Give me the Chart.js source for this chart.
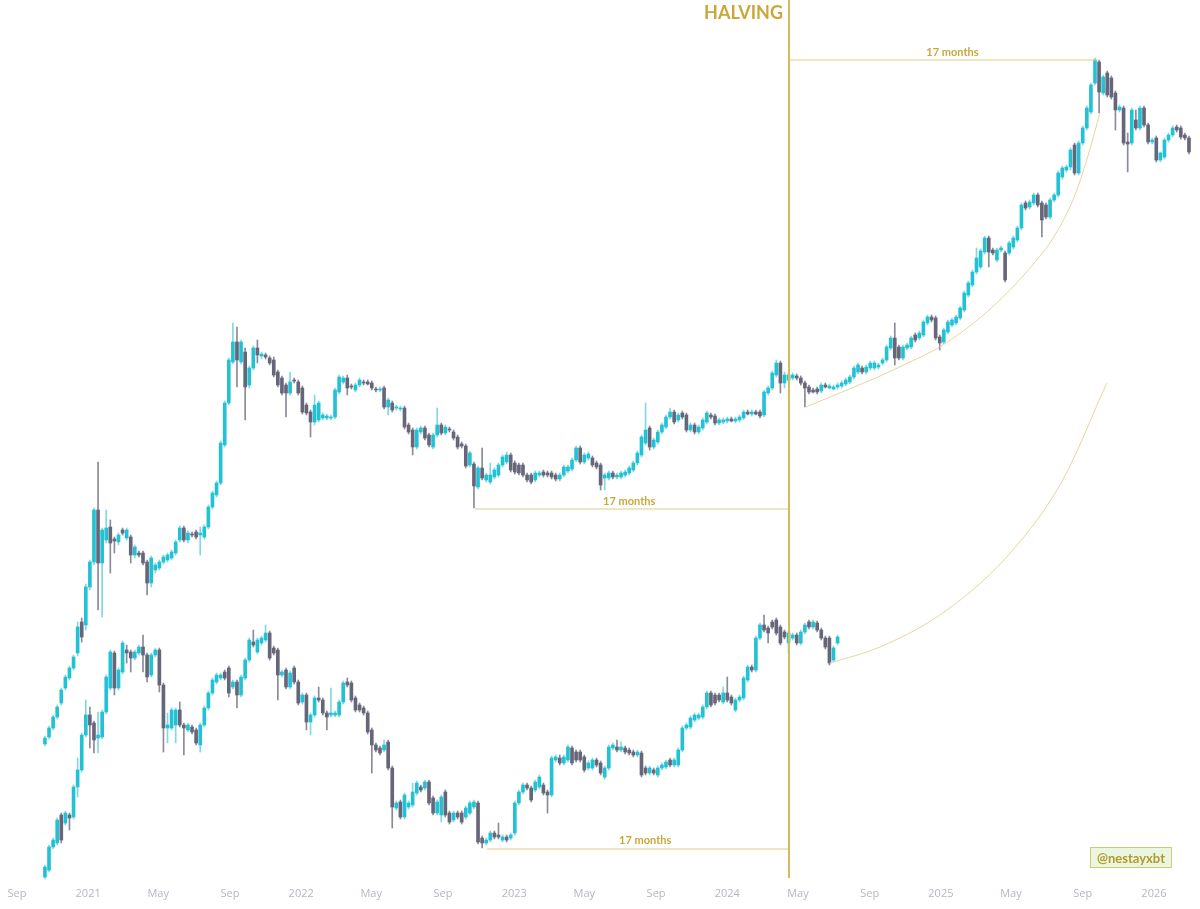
<!DOCTYPE html>
<html>
<head>
<meta charset="utf-8">
<script src="https://cdn.jsdelivr.net/npm/chart.js@4.4.1/dist/chart.umd.min.js"></script>
<style>
  html, body { margin: 0; padding: 0; background: #ffffff; }
  #wrap { width: 1200px; height: 909px; }
</style>
</head>
<body>
<div id="wrap"><canvas id="chart" width="1200" height="909"></canvas></div>
<script>
// weekly candles, first bar on this date
const startDate = '2020-10-19';

// current cycle, [open, high, low, close] per week (arbitrary price units)
const upperCandles = [
  [156,164,154,162],[163,174,161,172],[172,185,170,183],[183,195,181,193],[197,212,195,210],
  [212,225,210,223],[222,234,220,232],[232,245,230,243],[247,278,244,273],[278,282,258,263],
  [275,316,270,313],[313,340,310,338],[338,392,335,390],[390,438,290,337],[337,372,283,370],
  [360,390,357,372],[373,380,327,357],[361,363,347,359],[358,367,355,365],[370,372,365,367],
  [362,372,360,370],[363,365,337,345],[345,355,342,353],[347,349,343,345],[347,349,335,337],
  [338,340,305,317],[317,344,313,342],[330,337,327,335],[332,340,330,338],[338,345,336,343],
  [340,347,338,345],[342,350,340,348],[347,360,345,358],[360,374,358,372],[372,374,358,360],
  [360,369,357,367],[366,368,363,365],[368,370,361,363],[365,373,345,367],[363,375,361,373],
  [373,395,371,393],[393,409,391,407],[405,419,403,417],[417,459,415,457],[455,499,453,497],
  [497,542,495,540],[538,577,536,558],[558,573,513,540],[538,560,536,558],[548,552,480,513],
  [515,534,512,532],[532,554,530,552],[552,560,537,545],[544,548,541,546],[545,547,541,543],
  [542,544,535,537],[540,543,523,525],[528,530,513,515],[522,524,505,507],[515,517,483,507],
  [507,528,505,518],[520,522,517,519],[518,520,505,507],[512,514,486,488],[495,497,485,487],
  [488,490,463,478],[478,505,475,495],[480,499,478,497],[482,487,480,485],[482,486,480,484],
  [482,485,480,483],[483,512,481,510],[508,525,506,523],[518,524,516,522],[522,525,505,512],
  [514,516,511,513],[510,517,508,515],[515,522,513,520],[518,520,515,517],[518,520,515,516],
  [517,519,510,512],[511,513,508,510],[510,513,508,511],[512,514,491,493],[493,502,485,500],
  [497,499,488,490],[492,495,490,493],[491,494,489,492],[492,494,471,473],[475,477,466,468],
  [470,472,445,453],[453,472,451,470],[468,474,466,472],[472,474,460,462],[465,467,453,455],
  [453,467,451,465],[465,492,463,475],[475,477,465,467],[467,475,465,473],[471,473,468,470],
  [468,470,460,462],[463,465,451,453],[456,458,452,454],[454,456,432,434],[435,449,433,447],
  [436,438,392,414],[413,434,411,432],[432,452,420,422],[420,427,418,425],[418,437,416,425],
  [423,432,421,430],[425,437,423,435],[435,445,433,443],[438,448,436,445],[445,447,428,430],
  [437,439,426,428],[435,437,425,427],[435,437,423,425],[425,427,418,420],[425,427,416,418],
  [420,429,418,427],[425,429,423,427],[428,430,423,425],[427,429,423,425],[427,429,421,423],
  [425,427,419,421],[421,427,419,425],[425,435,423,433],[429,435,427,433],[431,442,429,440],
  [440,454,438,452],[452,454,436,438],[438,447,436,445],[442,448,440,446],[442,444,433,435],
  [437,439,431,433],[435,437,410,415],[422,427,410,425],[422,429,420,427],[427,429,421,423],
  [423,427,421,425],[423,429,421,427],[425,430,423,428],[427,434,425,432],[430,439,428,437],
  [437,449,435,447],[445,465,443,463],[457,497,455,470],[472,474,450,453],[453,462,451,460],
  [458,470,456,468],[468,477,466,475],[473,485,471,483],[483,492,481,488],[488,490,476,478],
  [480,487,478,485],[487,489,481,483],[485,487,468,470],[470,477,468,475],[475,477,466,468],
  [468,475,466,473],[472,482,470,480],[478,489,476,487],[485,487,481,483],[484,486,475,477],
  [477,482,475,480],[478,482,476,480],[479,483,477,481],[481,483,478,479],[479,483,477,481],
  [480,485,478,483],[482,490,480,488],[488,490,485,486],[486,490,484,488],[488,490,485,486],
  [488,490,482,484],[485,510,483,508],[507,514,505,512],[512,529,510,527],[525,540,523,537],
  [537,539,507,517],[517,528,512,525],[520,527,518,525],[522,527,520,525],[524,526,520,522],
  [522,524,515,517],[517,519,493,512],[513,515,506,508],[510,512,507,508],[511,513,506,508],
  [509,517,507,515],[515,517,512,513],[512,516,511,514],[511,515,510,513],[513,517,511,515],
  [514,519,512,517],[516,522,514,520],[518,525,516,523],[523,534,521,532],[528,537,526,535],
  [532,534,526,528],[528,535,526,533],[532,539,530,537],[532,539,530,537],[533,537,531,535],
  [537,542,535,540],[540,555,538,553],[552,564,550,562],[562,577,535,542],[553,555,540,542],
  [542,555,540,553],[552,557,550,555],[553,564,551,562],[565,567,558,560],[562,569,560,567],
  [565,580,563,578],[577,585,575,583],[583,585,578,580],[582,584,560,562],[563,565,550,557],
  [558,572,556,570],[568,580,566,578],[575,582,573,580],[577,585,575,583],[582,594,580,592],
  [590,609,588,607],[605,619,603,617],[615,630,613,628],[628,652,626,642],[633,651,631,649],
  [648,664,646,662],[662,664,633,648],[650,652,645,647],[640,652,638,650],[650,654,648,652],
  [647,649,618,620],[647,659,645,657],[653,664,651,662],[660,674,658,672],[672,697,670,695],
  [697,699,690,692],[693,700,691,698],[697,707,695,705],[705,707,693,695],[697,699,663,680],
  [695,697,681,683],[683,702,681,700],[700,707,698,705],[705,729,703,727],[723,734,721,732],
  [730,735,728,733],[733,752,730,750],[755,757,725,727],[727,759,725,757],[757,774,755,772],
  [772,794,770,792],[788,817,786,815],[817,842,815,840],[838,840,787,808],[807,825,805,823],
  [827,829,803,805],[822,824,801,803],[807,809,770,790],[790,795,788,793],[792,794,755,757],
  [758,767,728,756],[757,792,755,790],[780,790,770,772],[772,794,770,792],[792,794,773,775],
  [775,777,756,758],[758,762,756,760],[762,764,738,740],[740,748,738,747],[743,762,741,760],
  [760,767,758,765],[765,774,763,772],[773,775,768,770],[772,774,761,763],[765,767,760,762],
  [762,764,746,748]
];

// previous cycle laid over the same weeks, [open, high, low, close]
const lowerCandles = [
  [23,35,21,33],[30,55,28,53],[53,62,51,60],[57,82,55,80],[85,87,57,60],
  [77,89,75,87],[85,87,70,82],[83,115,81,113],[113,142,103,130],[130,167,128,165],
  [165,200,163,185],[185,193,152,175],[177,179,147,160],[162,188,147,165],[163,190,161,188],
  [188,225,186,223],[212,250,210,248],[247,249,205,212],[212,232,210,230],[228,259,226,257],
  [250,255,237,247],[248,250,228,242],[242,250,240,248],[247,255,245,253],[253,265,228,245],
  [245,247,218,223],[225,247,223,245],[245,252,243,250],[250,252,208,215],[215,217,148,172],
  [172,187,157,175],[172,192,170,190],[175,192,157,190],[190,198,173,175],[175,177,145,172],
  [170,177,168,175],[173,175,166,168],[170,172,155,157],[155,177,148,175],[175,194,173,192],
  [192,209,190,207],[207,222,205,220],[218,227,216,225],[222,227,220,225],[228,230,220,222],
  [232,234,203,207],[213,220,211,218],[218,220,192,205],[205,225,203,223],[222,242,220,240],
  [240,262,238,260],[258,270,253,255],[248,262,246,260],[257,264,255,262],[260,275,258,267],
  [267,269,240,242],[252,254,245,247],[250,252,200,225],[225,230,223,228],[230,232,211,213],
  [213,229,211,227],[232,234,216,218],[218,220,195,197],[198,207,196,205],[205,207,170,178],
  [178,187,165,185],[185,204,183,202],[202,213,198,200],[200,202,185,187],[187,189,170,183],
  [185,212,183,187],[185,189,183,187],[185,200,183,198],[198,219,196,217],[218,222,213,215],
  [217,219,198,200],[202,204,188,190],[195,197,188,190],[192,194,185,187],[187,189,166,168],
  [170,172,127,155],[155,157,148,150],[152,154,145,147],[150,160,148,155],[158,160,130,132],
  [132,134,72,93],[92,99,90,97],[98,100,81,83],[83,107,81,105],[93,99,91,97],
  [95,117,93,108],[107,119,105,117],[113,115,108,110],[112,120,110,118],[118,120,95,97],
  [102,104,85,87],[87,100,85,98],[85,105,78,103],[108,110,83,85],[87,89,76,78],
  [80,89,78,87],[87,89,81,83],[87,89,76,78],[83,94,81,92],[87,99,85,97],
  [93,100,91,98],[97,99,56,58],[62,64,52,57],[57,62,55,60],[60,69,58,67],
  [67,69,61,63],[65,77,61,63],[60,65,58,63],[63,65,58,60],[62,67,60,65],
  [67,99,65,97],[97,110,95,108],[108,117,106,115],[115,117,110,112],[112,114,98,100],
  [110,120,108,118],[113,125,111,123],[115,117,105,107],[108,110,87,105],[105,144,103,142],
  [140,145,138,143],[142,145,135,137],[137,145,135,143],[140,155,138,153],[152,154,135,137],
  [148,150,138,140],[148,150,138,140],[143,145,128,130],[132,139,130,137],[132,142,130,140],
  [140,142,133,135],[137,139,125,127],[123,134,121,132],[132,155,130,153],[152,157,150,155],
  [153,160,148,150],[150,158,148,153],[152,154,146,148],[150,152,145,147],[148,150,143,145],
  [145,150,143,148],[147,149,123,125],[132,134,125,127],[127,134,125,132],[130,132,125,127],
  [125,134,123,132],[132,137,130,135],[133,140,131,138],[140,142,133,135],[135,142,133,140],
  [135,152,133,150],[150,174,148,172],[172,177,170,175],[173,184,171,182],[180,187,178,185],
  [182,187,180,185],[183,195,181,193],[193,209,191,207],[207,209,193,195],[205,207,195,197],
  [205,207,198,200],[198,213,196,207],[207,223,198,200],[203,205,195,197],[190,202,188,200],
  [200,205,198,203],[202,224,200,222],[220,235,218,233],[233,235,228,230],[230,264,228,262],
  [262,277,260,275],[275,285,268,270],[272,274,257,267],[278,280,271,273],[280,282,265,267],
  [273,275,255,257],[268,270,261,263],[257,269,247,267],[262,267,260,265],[265,267,255,257],
  [257,270,255,268],[268,277,266,275],[278,280,271,273],[273,280,271,278],[277,279,268,270],
  [270,272,260,262],[262,264,251,253],[262,264,235,237],[240,254,238,252],[257,265,255,263]
];

// time axis labels
const tickDates = ['2020-09-01','2021-01-01','2021-05-01','2021-09-01','2022-01-01','2022-05-01',
  '2022-09-01','2023-01-01','2023-05-01','2023-09-01','2024-01-01','2024-05-01','2024-09-01',
  '2025-01-01','2025-05-01','2025-09-01','2026-01-01'];
const tickLabels = ['Sep','2021','May','Sep','2022','May','Sep','2023','May','Sep','2024','May',
  'Sep','2025','May','Sep','2026'];

// halving marker and the three "17 months" spans (weeks from start, price units)
const halvingWeek = 182.1;
const spanStart = [182.1, 105.3, 108.2];
const spanEnd = [257.6, 182.1, 182.1];
const spanLevel = [840, 391, 51];
const spanLabelWeek = [222.1, 143.0, 146.9];
const spanLabelLevel = [848, 399, 60];

// hand drawn arcs
const arc1Weeks = [186.2, 196.3, 204.4, 211.7, 219.0, 227.6, 233.7, 241.1, 247.2, 252.1, 255.7, 258.2];
const arc1Values = [493, 510, 524, 538, 553, 578, 600, 632, 665, 705, 750, 787];
const arc2Weeks = [192.1, 204.4, 220.8, 236.9, 249.1, 259.9];
const arc2Values = [237, 253, 290, 350, 420, 517];

const UP = '#22c1d4';
const DOWN = '#66667a';
const UP_WICK = '#7fd8e4';
const DOWN_WICK = '#8a8a98';
const GOLD = '#c9a83a';

const weekOf = d => (Date.parse(d) - Date.parse(startDate)) / (7 * 864e5);

function candleSets(rows, name) {
  const up = rows.map(r => r[3] >= r[0]);
  return [
    {
      label: name + ' wick',
      data: rows.map((r, i) => ({ x: i, y: [r[2], r[1]] })),
      backgroundColor: up.map(u => u ? UP_WICK : DOWN_WICK),
      barThickness: 1,
      grouped: false,
      order: 3
    },
    {
      label: name,
      data: rows.map((r, i) => ({ x: i, y: [r[0], r[3]] })),
      backgroundColor: up.map(u => u ? UP : DOWN),
      barThickness: 3,
      grouped: false,
      order: 2
    }
  ];
}

function lineSet(xs, ys, color, width, smooth) {
  return {
    type: 'line',
    data: xs.map((x, i) => ({ x, y: ys[i] })),
    borderColor: color,
    borderWidth: width,
    pointRadius: 0,
    fill: false,
    tension: smooth ? 0.4 : 0,
    cubicInterpolationMode: smooth ? 'monotone' : 'default',
    order: 1
  };
}

const spans = spanStart.map((s, i) =>
  lineSet([s, spanEnd[i]], [spanLevel[i], spanLevel[i]], '#e0cc88', 1, false));

const annotate = {
  id: 'annotate',
  afterDatasetsDraw(chart) {
    const { ctx } = chart;
    const x = chart.scales.x, y = chart.scales.y;
    ctx.save();
    ctx.fillStyle = GOLD;
    ctx.font = 'bold 18px Lato';
    ctx.textAlign = 'right';
    ctx.textBaseline = 'middle';
    ctx.fillText('HALVING', x.getPixelForValue(halvingWeek) - 6, y.getPixelForValue(887));

    ctx.font = 'bold 11px Lato';
    ctx.textAlign = 'center';
    spanLabelWeek.forEach((w, i) => {
      ctx.fillText('17 months', x.getPixelForValue(w), y.getPixelForValue(spanLabelLevel[i]));
    });

    // watermark box
    const bx = chart.width - 110, by = chart.chartArea.bottom - 36, bw = 82, bh = 21;
    ctx.fillStyle = '#eaf6df';
    ctx.fillRect(bx, by, bw, bh);
    ctx.strokeStyle = '#cfc874';
    ctx.lineWidth = 1;
    ctx.strokeRect(bx + 0.5, by + 0.5, bw - 1, bh - 1);
    ctx.fillStyle = '#b29a2e';
    ctx.font = 'bold 13px Lato';
    ctx.fillText('@nestayxbt', bx + bw / 2, by + bh / 2 + 1);
    ctx.restore();
  }
};

new Chart(document.getElementById('chart'), {
  type: 'bar',
  data: {
    datasets: [
      ...candleSets(upperCandles, 'current cycle'),
      ...candleSets(lowerCandles, 'previous cycle'),
      lineSet([halvingWeek, halvingWeek], [900, 22], '#d3ba5c', 2, false),
      ...spans,
      lineSet(arc1Weeks, arc1Values, '#e8d4a2', 1, true),
      lineSet(arc2Weeks, arc2Values, '#e8d4a2', 1, true)
    ]
  },
  options: {
    responsive: false,
    animation: false,
    events: [],
    layout: { padding: 0 },
    plugins: { legend: { display: false }, tooltip: { enabled: false } },
    scales: {
      x: {
        type: 'linear',
        offset: false,
        min: -11.0,
        max: 282.7,
        grid: { display: false, drawTicks: false },
        border: { display: false },
        afterFit: s => { s.height = 26; },
        afterBuildTicks: s => { s.ticks = tickDates.map(d => ({ value: weekOf(d) })); },
        ticks: {
          autoSkip: false,
          maxRotation: 0,
          padding: 4,
          color: '#b4b7c3',
          font: { family: 'Open Sans', size: 11 },
          callback: (v, i) => tickLabels[i]
        }
      },
      y: {
        display: false,
        min: 17,
        max: 900
      }
    }
  },
  plugins: [annotate]
});
</script>
</body>
</html>
